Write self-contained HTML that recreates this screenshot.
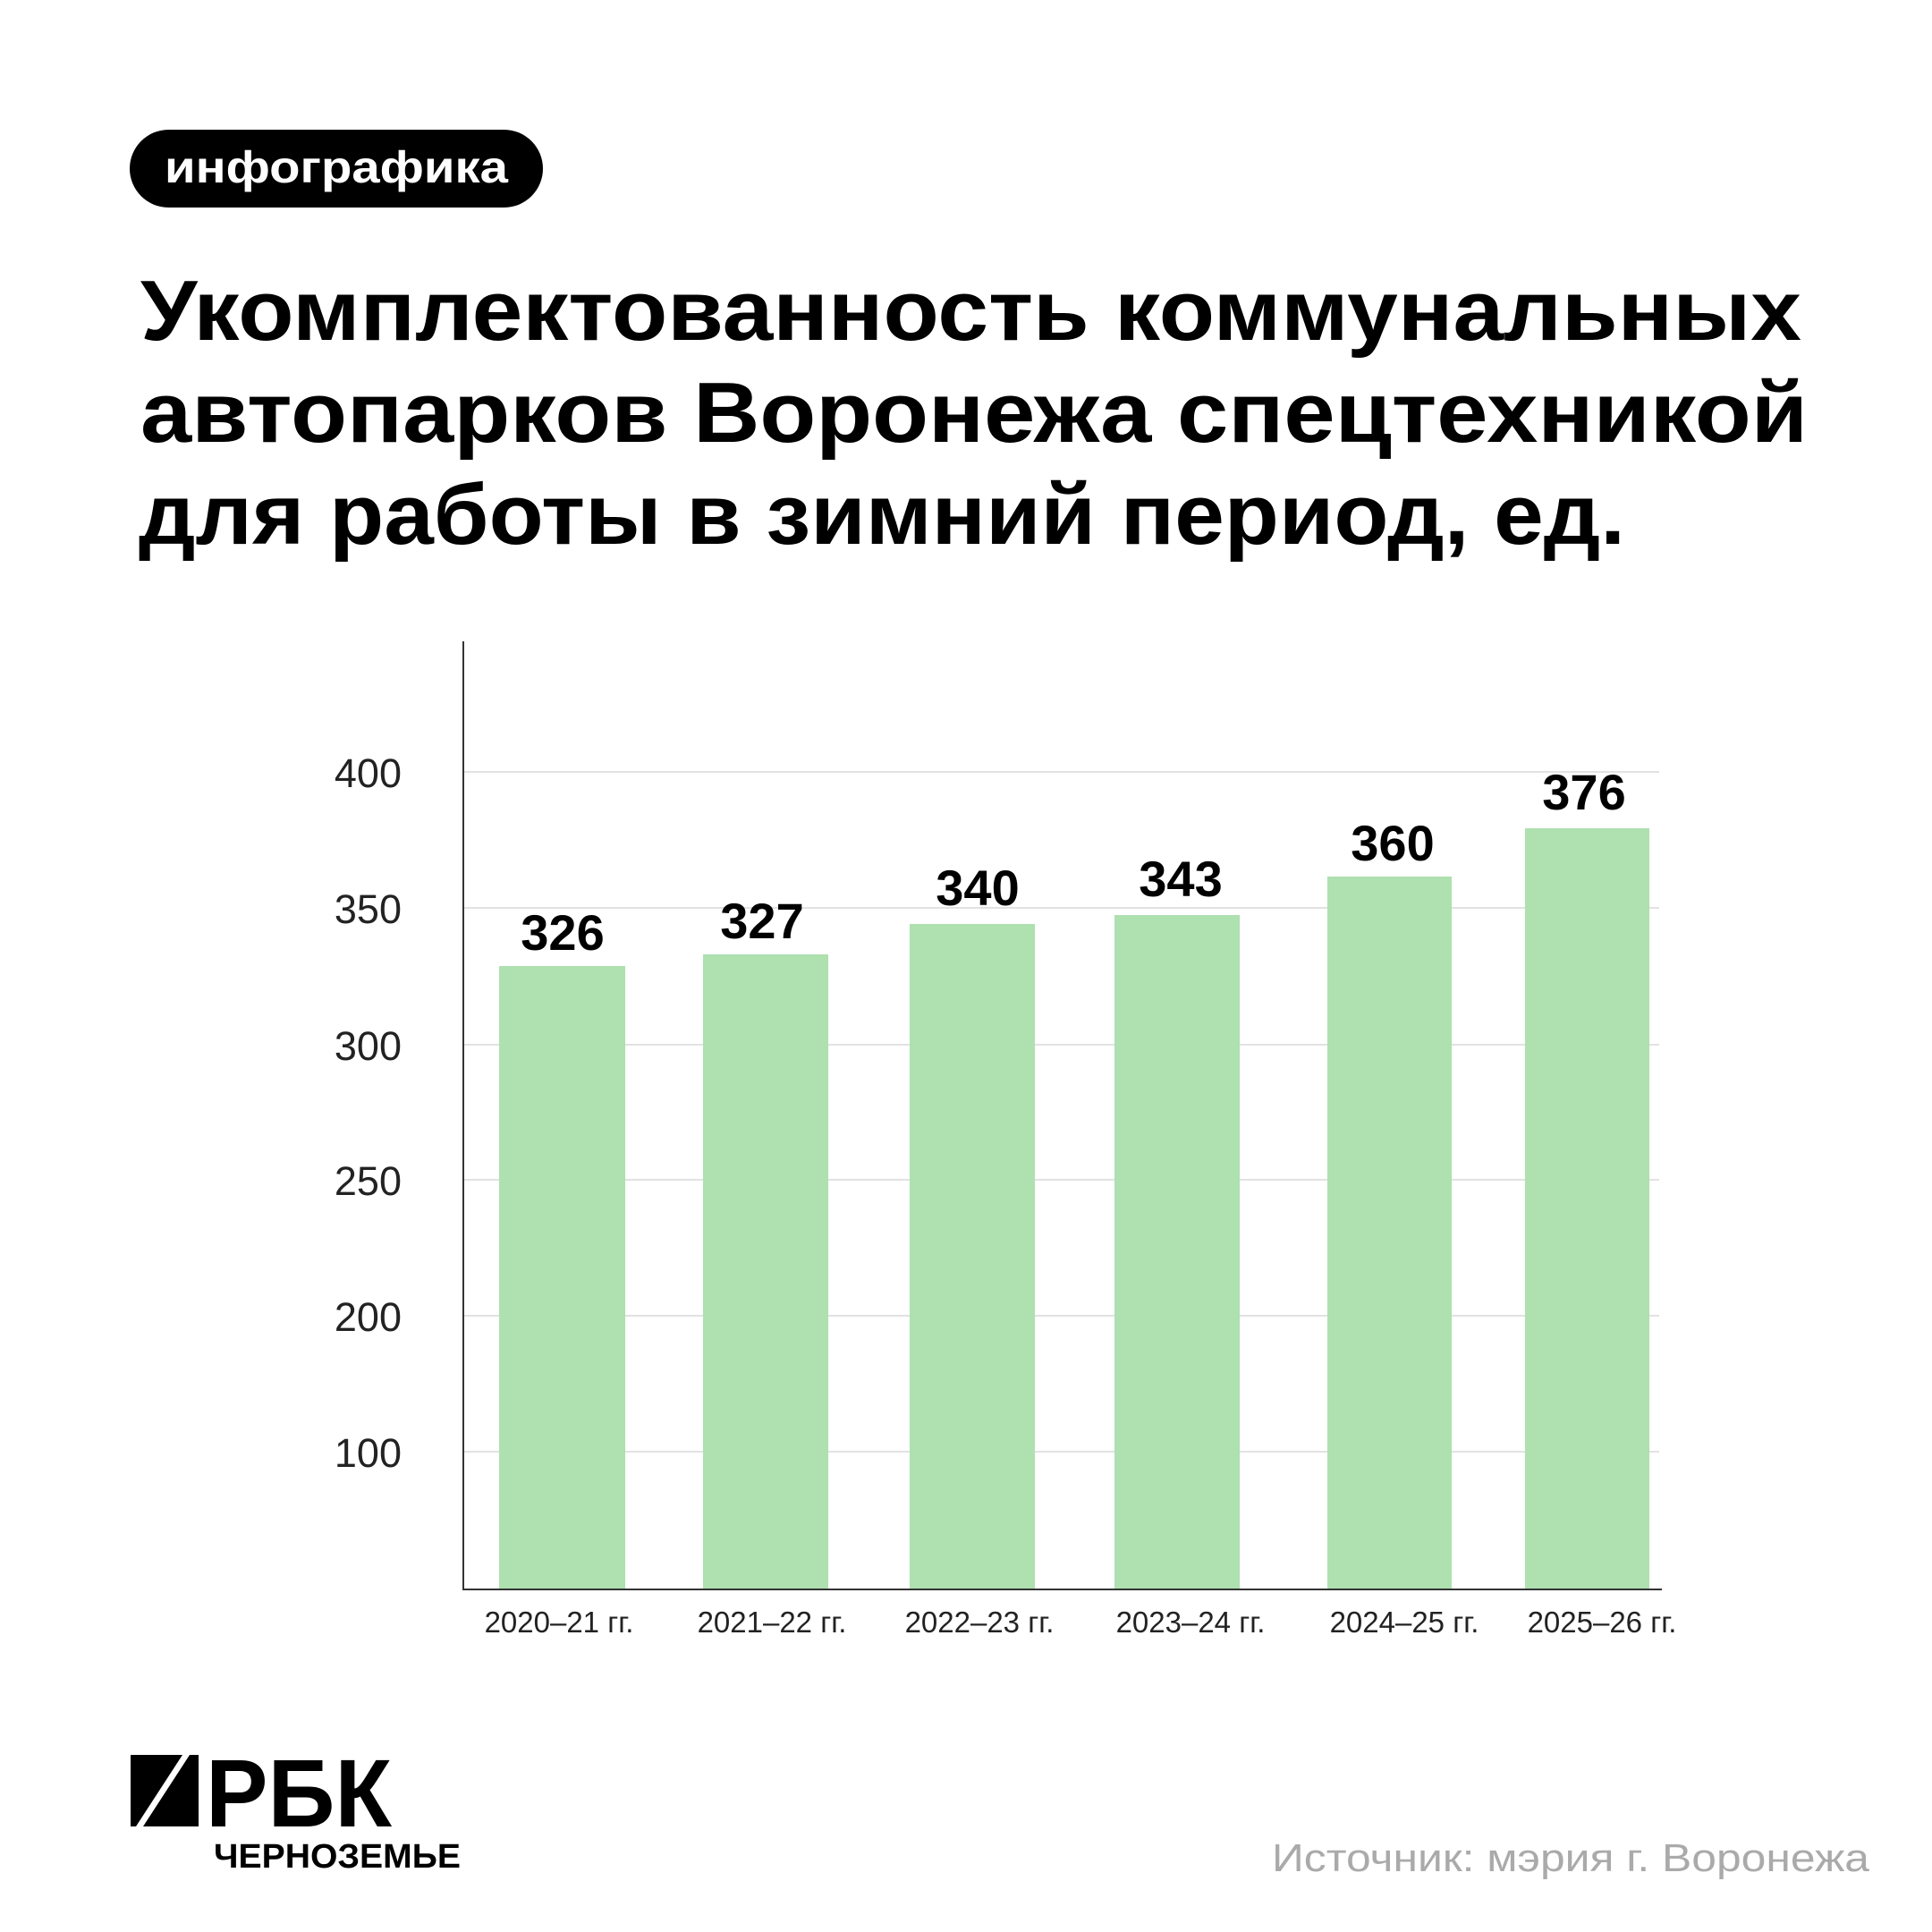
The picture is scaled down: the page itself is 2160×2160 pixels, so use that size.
<!DOCTYPE html>
<html><head><meta charset="utf-8"><style>html,body{margin:0;padding:0;background:#fff}svg{display:block}</style></head>
<body>
<svg width="2160" height="2160" viewBox="0 0 2160 2160" xmlns="http://www.w3.org/2000/svg" font-family="Liberation Sans, sans-serif">
<rect width="2160" height="2160" fill="#fff"/>
<rect x="145" y="145" width="462" height="87" rx="43.5" fill="#000"/>
<text x="376" y="204" font-size="50" font-weight="bold" fill="#fff" text-anchor="middle" textLength="384" lengthAdjust="spacingAndGlyphs">инфографика</text>
<g font-size="96" font-weight="bold" fill="#000">
<text x="157" y="380" textLength="1857" lengthAdjust="spacingAndGlyphs">Укомплектованность коммунальных</text>
<text x="157" y="494" textLength="1864" lengthAdjust="spacingAndGlyphs">автопарков Воронежа спецтехникой</text>
<text x="155" y="608" textLength="1662" lengthAdjust="spacingAndGlyphs">для работы в зимний период, ед.</text>
</g>
<g stroke="#d8d8d8" stroke-width="1.5">
<line x1="518" y1="863" x2="1855" y2="863"/>
<line x1="518" y1="1015" x2="1855" y2="1015"/>
<line x1="518" y1="1168" x2="1855" y2="1168"/>
<line x1="518" y1="1319" x2="1855" y2="1319"/>
<line x1="518" y1="1471" x2="1855" y2="1471"/>
<line x1="518" y1="1623" x2="1855" y2="1623"/>
</g>
<g fill="#aee0b0">
<rect x="558" y="1080" width="141" height="697"/>
<rect x="786" y="1067" width="140" height="710"/>
<rect x="1017" y="1033" width="140" height="744"/>
<rect x="1246" y="1023" width="140" height="754"/>
<rect x="1484" y="980" width="139" height="797"/>
<rect x="1705" y="926" width="139" height="851"/>
</g>
<line x1="518" y1="717" x2="518" y2="1778" stroke="#333" stroke-width="2"/>
<line x1="518" y1="1777" x2="1858" y2="1777" stroke="#333" stroke-width="2"/>
<g font-size="45" fill="#222" text-anchor="end">
<text x="449" y="880">400</text>
<text x="449" y="1032">350</text>
<text x="449" y="1185">300</text>
<text x="449" y="1336">250</text>
<text x="449" y="1488">200</text>
<text x="449" y="1640">100</text>
</g>
<g font-size="56" font-weight="bold" fill="#000" text-anchor="middle">
<text x="629" y="1062">326</text>
<text x="852" y="1049">327</text>
<text x="1093" y="1012">340</text>
<text x="1320" y="1002">343</text>
<text x="1557" y="962">360</text>
<text x="1771" y="905">376</text>
</g>
<g font-size="33" fill="#222" text-anchor="middle">
<text x="625" y="1825">2020–21 гг.</text>
<text x="863" y="1825">2021–22 гг.</text>
<text x="1095" y="1825">2022–23 гг.</text>
<text x="1331" y="1825">2023–24 гг.</text>
<text x="1570" y="1825">2024–25 гг.</text>
<text x="1791" y="1825">2025–26 гг.</text>
</g>
<polygon points="146,1962 222,1962 222,2042 146,2042" fill="#000"/>
<polygon points="204,1962 212,1962 160,2042 152,2042" fill="#fff"/>
<text x="230" y="2042" font-size="108" font-weight="bold" fill="#000" textLength="208" lengthAdjust="spacingAndGlyphs">РБК</text>
<text x="239" y="2088" font-size="38" font-weight="bold" fill="#000" textLength="276" lengthAdjust="spacingAndGlyphs">ЧЕРНОЗЕМЬЕ</text>
<text x="2090" y="2092" font-size="44" fill="#aaa" text-anchor="end" textLength="668" lengthAdjust="spacingAndGlyphs">Источник: мэрия г. Воронежа</text>
</svg>
</body></html>
